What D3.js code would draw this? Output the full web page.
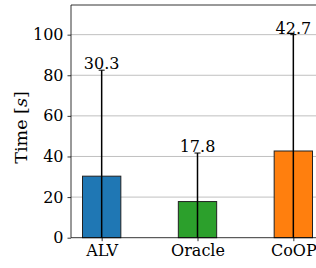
<!DOCTYPE html>
<html><head><meta charset="utf-8">
<script src="https://cdn.jsdelivr.net/npm/d3@7"></script>
<style>body{margin:0;background:#fff}svg{display:block}</style>
</head><body>
<svg id="c" width="316" height="268"></svg>
<script>
const categories = ["ALV", "Oracle", "CoOP"];
const values = [30.3, 17.8, 42.7];
const errUpper = [82.5, 41.7, 100.0];
const errLower = [0, 0, 0];
const colors = ["#1f77b4", "#2ca02c", "#ff7f0e"];
const yTicks = [0, 20, 40, 60, 80, 100];

(function () {
const svg = d3.select("#c");
const mL = 71, mT = 5, mB = 237.7, mR = 324;
const font = "DejaVu Serif";
const fs = 16;

const x = d3.scaleLinear().domain([-0.32, 2.32]).range([mL, mR]);
const y = d3.scaleLinear().domain([0, 114.6]).range([mB, mT]);
const bw = x(0.4) - x(0);

// grid
svg.append("g").selectAll("line").data(yTicks.filter(d => d > 0)).join("line")
  .attr("x1", mL).attr("x2", 316).attr("y1", d => y(d)).attr("y2", d => y(d))
  .attr("stroke", "#b0b0b0").attr("stroke-width", 0.8);

// bars
svg.append("g").selectAll("rect").data(values).join("rect")
  .attr("x", (d, i) => x(i) - bw / 2).attr("width", bw)
  .attr("y", d => y(d)).attr("height", d => y(0) - y(d))
  .attr("fill", (d, i) => colors[i]).attr("stroke", "#222").attr("stroke-width", 1);

// error bars
const eg = svg.append("g").attr("stroke", "#000").attr("stroke-width", 1.5);
values.forEach((v, i) => {
  eg.append("line").attr("x1", x(i)).attr("x2", x(i)).attr("y1", y(errLower[i])).attr("y2", y(errUpper[i]));
  eg.append("line").attr("x1", x(i) - 3).attr("x2", x(i) + 3).attr("y1", y(errUpper[i])).attr("y2", y(errUpper[i])).attr("stroke-width", 1);
});

// value labels
svg.append("g").selectAll("text").data(values).join("text")
  .attr("x", (d, i) => x(i)).attr("y", (d, i) => y(errUpper[i]) - 1)
  .attr("text-anchor", "middle").attr("font-family", font).attr("font-size", fs)
  .attr("fill", "#000").text(d => d.toFixed(1));

// axes
const ya = d3.axisLeft(y).tickValues(yTicks).tickSize(3.5).tickPadding(4).tickFormat(d3.format("d"));
const yg = svg.append("g").attr("transform", `translate(${mL},0)`).call(ya);
yg.select(".domain").remove();
yg.selectAll("text").attr("font-family", font).attr("font-size", fs).attr("fill", "#000");
yg.selectAll("line").attr("stroke", "#000").attr("stroke-width", 0.8);

const xa = d3.axisBottom(x).tickValues([0, 1, 2]).tickSize(3.5).tickPadding(3.5).tickFormat(i => categories[i]);
const xg = svg.append("g").attr("transform", `translate(0,${mB})`).call(xa);
xg.select(".domain").remove();
xg.selectAll("text").attr("font-family", font).attr("font-size", fs).attr("fill", "#000")
  .attr("dy", null).attr("y", 18.5);
xg.selectAll("line").attr("stroke", "#000").attr("stroke-width", 0.8);

// spines
svg.append("line").attr("x1", mL).attr("x2", mL).attr("y1", mT).attr("y2", mB).attr("stroke", "#000").attr("stroke-width", 0.8);
svg.append("line").attr("x1", mL).attr("x2", 316).attr("y1", mT).attr("y2", mT).attr("stroke", "#000").attr("stroke-width", 0.8);
svg.append("line").attr("x1", mL).attr("x2", 316).attr("y1", mB).attr("y2", mB).attr("stroke", "#000").attr("stroke-width", 0.8);

// y label
const yl = svg.append("text").attr("transform", `translate(27,127.5) rotate(-90)`)
  .attr("text-anchor", "middle").attr("font-family", font).attr("font-size", 17.5).attr("fill", "#000");
yl.append("tspan").text("Time [");
yl.append("tspan").attr("font-style", "italic").text("s");
yl.append("tspan").text("]");
})();
</script>
</body></html>
